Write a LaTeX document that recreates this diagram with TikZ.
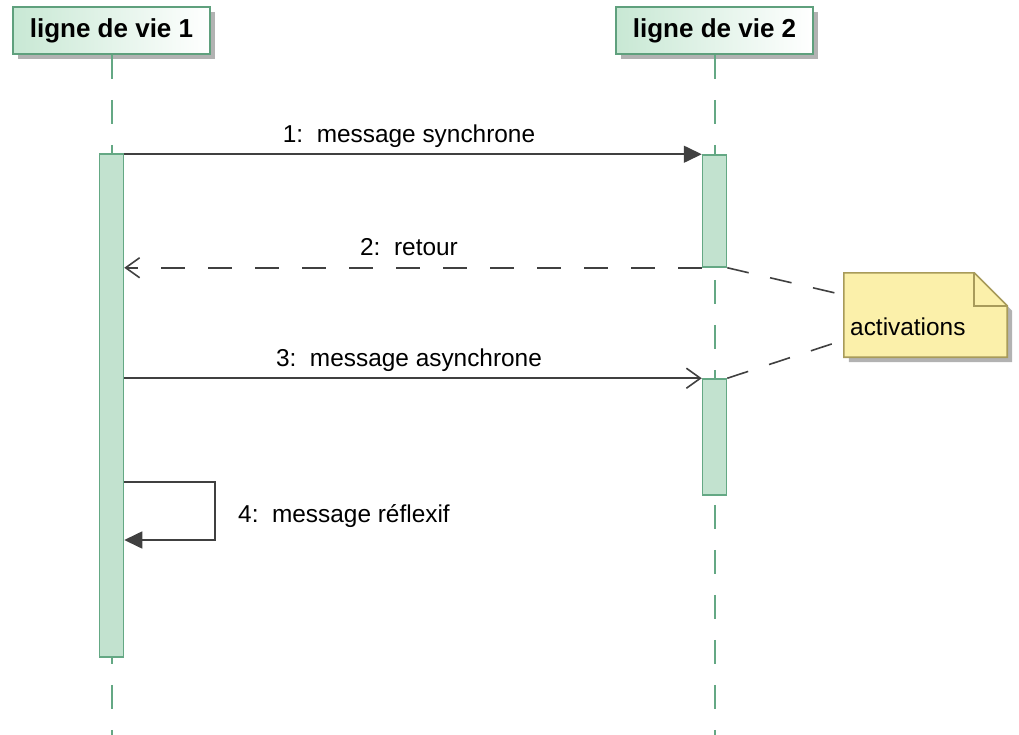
\documentclass[tikz,border=0pt]{standalone}
\usepackage{fontspec}
\setmainfont{Liberation Sans}
\usetikzlibrary{arrows.meta,shadows,positioning}
\definecolor{headfill}{RGB}{200,232,212}
\definecolor{headline}{RGB}{95,160,125}
\definecolor{actfill}{RGB}{194,226,207}
\definecolor{lifecol}{RGB}{100,168,132}
\definecolor{notefill}{RGB}{251,240,170}
\definecolor{noteline}{RGB}{168,155,90}
\definecolor{msgcol}{RGB}{64,64,64}
\begin{document}
\begin{tikzpicture}[
    x=1pt, y=-1pt,
    head/.style={draw=headline, line width=1.6pt, left color=headfill, right color=white,
      minimum width=197pt, minimum height=47pt, inner sep=0pt,
      font=\fontsize{26}{30}\selectfont\bfseries,
      drop shadow={shadow xshift=5pt, shadow yshift=-5pt, fill=black!30, opacity=1}},
    life/.style={draw=lifecol, line width=2pt, dash pattern=on 24pt off 21pt},
    act/.style={draw=lifecol, fill=actfill, line width=1.5pt, minimum width=24pt, inner sep=0pt},
    msg/.style={draw=msgcol, line width=1.6pt},
    reply/.style={msg, dash pattern=on 24pt off 23pt},
    lbl/.style={font=\fontsize{24.4}{29}\selectfont, inner sep=0pt},
    msglbl/.style={lbl, anchor=base, yshift=12pt},
    notebox/.style={fill=notefill, draw=noteline, line width=1.6pt,
      drop shadow={shadow xshift=5pt, shadow yshift=-5pt, fill=black!30, opacity=1}},
    notelink/.style={draw=msgcol, line width=1.6pt, dash pattern=on 22pt off 22pt}
    ]
    \useasboundingbox (0,0) rectangle (1019,735);

    % participants
    \node[head] (h1) at (111.5,30.5) {ligne de vie 1};
    \node[head] (h2) at (714.5,30.5) {ligne de vie 2};

    % lifelines
    \coordinate (e1) at (h1.south |- 0,735);
    \coordinate (e2) at (h2.south |- 0,735);
    \draw[life] (h1.south) -- (e1);
    \draw[life] (h2.south) -- (e2);

    % activations
    \node[act, minimum height=503pt] (a1) at (h1.south |- 0,405.5) {};
    \node[act, minimum height=112pt] (a2) at (h2.south |- 0,211) {};
    \node[act, minimum height=116pt] (a3) at (h2.south |- 0,437) {};

    % messages
    \draw[msg, -{Triangle[length=18pt, width=17pt]}] (a2.north west -| a1.east) -- (a2.north west)
      node[msglbl, midway, xshift=-4pt] {1:\ \ message synchrone};
    \draw[reply, -{Straight Barb[length=14pt, width=20pt]}] (a2.south west) -- (a2.south west -| a1.east)
      node[msglbl, midway, xshift=-4pt] {2:\ \ retour};
    \draw[msg, -{Straight Barb[length=14pt, width=20pt]}] (a3.north west -| a1.east) -- (a3.north west)
      node[msglbl, midway, xshift=-4pt] {3:\ \ message asynchrone};

    % self message
    \coordinate (loop) at (215,540);
    \draw[msg, -{Triangle[length=18pt, width=17pt]}] (a1.east |- 0,482) -| (loop) -- (a1.east |- loop);
    \node[lbl, anchor=base west] (l4) at (238,522) {4:\ \ message réflexif};

    % note
    \node[inner sep=0pt, minimum width=163pt, minimum height=84pt] (note) at (925.5,315) {};
    \filldraw[notebox] (note.north west) -- ([xshift=-33pt]note.north east)
      -- ([yshift=-33pt]note.north east) -- (note.south east) -- (note.south west) -- cycle;
    \draw[draw=noteline, line width=1.6pt] ([xshift=-33pt]note.north east) |- ([yshift=-33pt]note.north east);
    \node[lbl, anchor=base west] (notetxt) at (850,335) {activations};
    \draw[notelink] (a2.south east) -- (note.west |- 0,295);
    \draw[notelink] (a3.north east) -- (note.west |- 0,340);

  \end{tikzpicture}
\end{document}
